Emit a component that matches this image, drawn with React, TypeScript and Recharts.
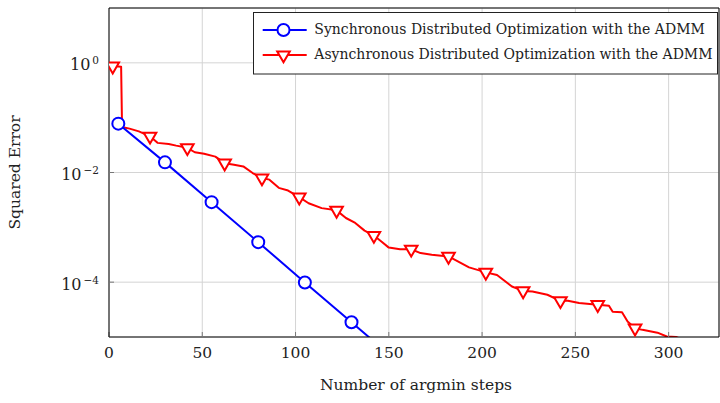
import React from 'react';
import { LineChart, Line, XAxis, YAxis, CartesianGrid, Legend, Label } from 'recharts';

const syncSteps = [5, 30, 55, 80, 105, 130, 145];
const syncErr = [0.0778, 0.0153, 0.00288, 5.37e-4, 9.84e-5, 1.86e-5, 6.8e-6];
const syncMarkerSteps = [5, 30, 55, 80, 105, 130];

const asyncSteps = [
  2, 6.5, 7, 11, 16, 22, 26, 32, 36, 42, 46, 51, 57, 62, 67, 72, 77, 82, 86, 91, 96, 102, 107, 114,
  122, 127, 132, 137, 142, 146, 150, 156, 162, 167, 173, 182, 187, 193, 198, 202, 208, 216, 222,
  227, 235, 242, 246, 252, 262, 268, 270, 275, 278, 282, 286, 294, 299, 304, 310,
];
const asyncErr = [
  0.871, 0.851, 0.0676, 0.0631, 0.0562, 0.0457, 0.0347, 0.0331, 0.0309, 0.0282, 0.0234, 0.0219,
  0.0195, 0.0148, 0.0138, 0.0129, 0.00977, 0.00794, 0.00741, 0.00525, 0.00468, 0.00355, 0.00275,
  0.00224, 0.00204, 0.00148, 0.0012, 8.71e-4, 7.08e-4, 5.5e-4, 4.27e-4, 3.98e-4, 3.98e-4, 3.39e-4,
  3.16e-4, 2.95e-4, 2.4e-4, 1.86e-4, 1.66e-4, 1.51e-4, 1.35e-4, 8.32e-5, 6.92e-5, 6.76e-5, 5.89e-5,
  4.57e-5, 4.57e-5, 4.17e-5, 3.89e-5, 3.72e-5, 2.88e-5, 2.82e-5, 1.91e-5, 1.45e-5, 1.35e-5,
  1.2e-5, 1.02e-5, 1.0e-5, 8.3e-6,
];
const asyncMarkerSteps = [2, 22, 42, 62, 82, 102, 122, 142, 162, 182, 202, 222, 242, 262, 282];

const xTicks = [0, 50, 100, 150, 200, 250, 300];
const yTicks = [1, 1e-2, 1e-4];
const seriesNames = [
  'Synchronous Distributed Optimization with the ADMM',
  'Asynchronous Distributed Optimization with the ADMM',
];
const xTitle = 'Number of argmin steps';
const yTitle = 'Squared Error';

const syncData = syncSteps.map((s, i) => ({ step: s, err: syncErr[i] }));
const asyncData = asyncSteps.map((s, i) => ({ step: s, err: asyncErr[i] }));

const FONT = 'DejaVu Serif';
const BLUE = '#0000ff';
const RED = '#ff0000';

const triPoints = (cx: number, cy: number) =>
  `${cx - 6.3},${cy - 3.6} ${cx + 6.3},${cy - 3.6} ${cx},${cy + 7.3}`;

const CircleDot = (props: any) => {
  const { cx, cy, payload, index } = props;
  if (!syncMarkerSteps.includes(payload.step)) return <g key={`sd${index}`} />;
  return <circle key={`sd${index}`} cx={cx} cy={cy} r={6} fill="#fff" stroke={BLUE} strokeWidth={2} />;
};

const TriDot = (props: any) => {
  const { cx, cy, payload, index } = props;
  if (!asyncMarkerSteps.includes(payload.step)) return <g key={`ad${index}`} />;
  return (
    <polygon key={`ad${index}`} points={triPoints(cx, cy)} fill="#fff" stroke={RED} strokeWidth={2} strokeLinejoin="miter" />
  );
};

const XTick = (props: any) => {
  const { x, y, payload } = props;
  return (
    <text x={x} y={y + 21} textAnchor="middle" fontFamily={FONT} fontSize={15.5} fill="#222">
      {payload.value}
    </text>
  );
};

const YTick = (props: any) => {
  const { x, y, payload } = props;
  const e = Math.round(Math.log10(payload.value));
  const sup = e === 0 ? '0' : `\u2212${Math.abs(e)}`;
  return (
    <text x={x} y={y + 7.5} textAnchor="end" fontFamily={FONT} fontSize={16} fill="#222">
      <tspan>10</tspan>
      <tspan dx={2} dy={-6} fontSize={10.5}>{sup}</tspan>
    </text>
  );
};

const LegendBox = () => (
  <svg width={466} height={63} style={{ display: 'block' }}>
    <rect x={0.5} y={0.5} width={464} height={61.5} fill="#fff" stroke="#222" strokeWidth={1} />
    <line x1={9.7} y1={18} x2={53.7} y2={18} stroke={BLUE} strokeWidth={2} />
    <circle cx={30.5} cy={18} r={6} fill="#fff" stroke={BLUE} strokeWidth={2} />
    <text x={61.3} y={21.8} fontFamily={FONT} fontSize={14} fill="#222">{seriesNames[0]}</text>
    <line x1={9.7} y1={43} x2={53.7} y2={43} stroke={RED} strokeWidth={2} />
    <polygon points={triPoints(30.5, 43)} fill="#fff" stroke={RED} strokeWidth={2} />
    <text x={61.3} y={47.4} fontFamily={FONT} fontSize={14} fill="#222">{seriesNames[1]}</text>
  </svg>
);

export default function App() {
  return (
    <div style={{ position: 'absolute', left: 0, top: 0, width: 720, height: 403 }}>
      <LineChart width={720} height={403} margin={{ top: 7, right: 0, bottom: 21, left: 0 }}>
        <CartesianGrid stroke="#d4d4d4" strokeWidth={1} />
        <XAxis
          type="number"
          dataKey="step"
          domain={[0, 327]}
          ticks={xTicks}
          allowDataOverflow
          height={45}
          axisLine={{ stroke: '#000', strokeWidth: 1 }}
          tickLine={{ stroke: '#777' }}
          tickSize={-5}
          tickMargin={5}
          tick={<XTick />}
        >
          <Label
            content={(p: any) => {
              const vb = p.viewBox;
              return (
                <text x={vb.x + vb.width / 2 + 2} y={vb.y + 53} textAnchor="middle" fontFamily={FONT} fontSize={15.5} fill="#222">
                  {xTitle}
                </text>
              );
            }}
          />
        </XAxis>
        <XAxis
          xAxisId="top"
          orientation="top"
          type="number"
          domain={[0, 327]}
          ticks={xTicks}
          allowDataOverflow
          height={1}
          axisLine={{ stroke: '#000', strokeWidth: 1 }}
          tickLine={{ stroke: '#777' }}
          tickSize={-5}
          tick={false}
        />
        <YAxis
          type="number"
          scale="log"
          domain={[1e-5, 10]}
          ticks={yTicks}
          allowDataOverflow
          width={109}
          axisLine={{ stroke: '#000', strokeWidth: 1 }}
          tickLine={{ stroke: '#777' }}
          tickSize={-5}
          tickMargin={15}
          tick={<YTick />}
        >
          <Label
            content={(p: any) => {
              const vb = p.viewBox;
              const cy = vb.y + vb.height / 2;
              return (
                <text x={20} y={cy} transform={`rotate(-90, 20, ${cy})`} textAnchor="middle" fontFamily={FONT} fontSize={15.5} fill="#222">
                  {yTitle}
                </text>
              );
            }}
          />
        </YAxis>
        <YAxis
          yAxisId="right"
          orientation="right"
          type="number"
          scale="log"
          domain={[1e-5, 10]}
          ticks={yTicks}
          allowDataOverflow
          width={1}
          axisLine={{ stroke: '#000', strokeWidth: 1 }}
          tickLine={{ stroke: '#777' }}
          tickSize={-5}
          tick={false}
        />
        <Line
          data={asyncData}
          dataKey="err"
          name={seriesNames[1]}
          type="linear"
          stroke={RED}
          strokeWidth={2}
          strokeLinejoin="round"
          dot={TriDot}
          activeDot={false}
          isAnimationActive={false}
        />
        <Line
          data={syncData}
          dataKey="err"
          name={seriesNames[0]}
          type="linear"
          stroke={BLUE}
          strokeWidth={2}
          dot={CircleDot}
          activeDot={false}
          isAnimationActive={false}
        />
        <Legend
          layout="vertical"
          align="center"
          verticalAlign="middle"
          wrapperStyle={{ position: 'absolute', left: 253, top: 12, width: 466, height: 63 }}
          content={() => <LegendBox />}
        />
      </LineChart>
    </div>
  );
}
